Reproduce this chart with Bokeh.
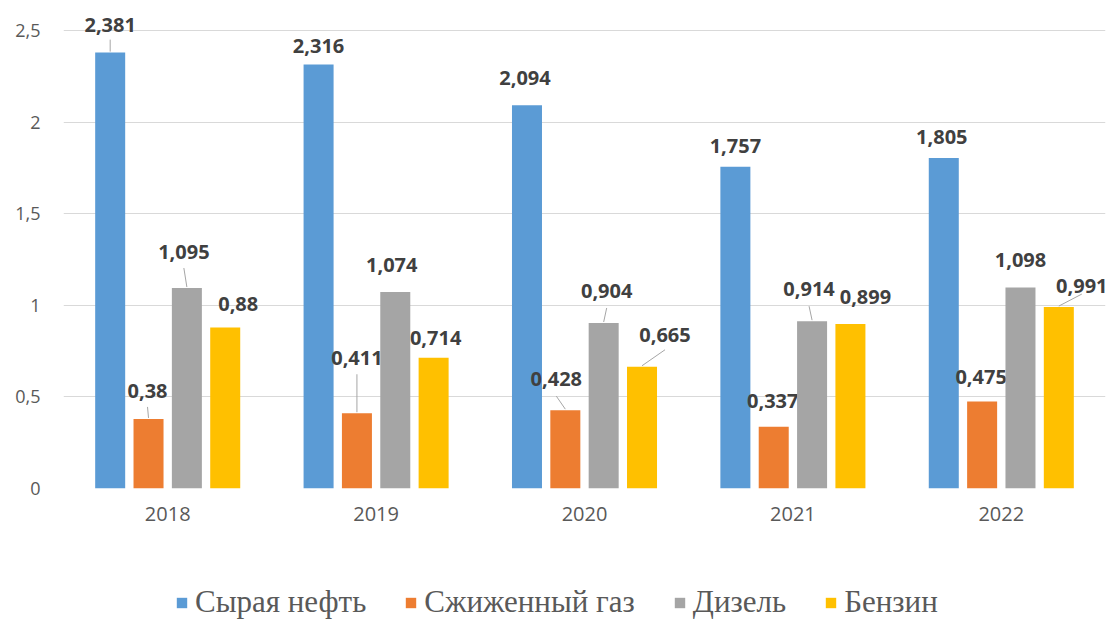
from bokeh.plotting import figure
from bokeh.models import (ColumnDataSource, Range1d, FixedTicker, CustomJSTickFormatter,
                          Legend, LegendItem)
from bokeh.layouts import column
from bokeh.core.properties import value
from bokeh.embed import file_html
from bokeh.resources import INLINE

# ---------------- data ----------------
years = ["2018", "2019", "2020", "2021", "2022"]
crude = [2.381, 2.316, 2.094, 1.757, 1.805]
lpg = [0.38, 0.411, 0.428, 0.337, 0.475]
diesel = [1.095, 1.074, 0.904, 0.914, 1.098]
gasoline = [0.88, 0.714, 0.665, 0.899, 0.991]
series_names = ["Сырая нефть", "Сжиженный газ", "Дизель", "Бензин"]
y_ticks = [0, 0.5, 1, 1.5, 2, 2.5]

# ---------------- styling / label placement (pixels) ----------------
colors = ["#5B9BD5", "#ED7D31", "#A5A5A5", "#FFC000"]
FRAME_W, FRAME_H = 1042, 476
PX_X = FRAME_W / 5.0    # pixels per category
PX_Y = FRAME_H / 2.6    # pixels per unit
bar_step = 0.184
bar_width = 0.144

label_dx = [[0, 0, -2, 0, -2],
            [-1, 0, -9, -1, -1],
            [-3, -3.5, 3, -3, 0],
            [13, 2, 23, 15, 23]]
label_dy = [[28, 18, 27, 21, 21],
            [28, 55, 31, 26, 25],
            [36, 27, 32, 32, 27],
            [23, 20, 32, 27, 21]]
leader = [[1, 0, 0, 0, 0],
          [1, 1, 1, 0, 0],
          [1, 0, 1, 1, 0],
          [0, 0, 1, 0, 1]]
leader_gap = [[15, 15, 15, 15, 15],
              [16, 16, 17, 15, 15],
              [16, 15, 17, 17, 15],
              [15, 15, 15, 15, 8]]

series = [crude, lpg, diesel, gasoline]

p = figure(frame_width=FRAME_W, frame_height=FRAME_H,
           x_range=Range1d(0, 5.0), y_range=Range1d(0, 2.6),
           output_backend="svg", toolbar_location=None,
           min_border_left=63, min_border_right=4, min_border_top=12,
           min_border_bottom=54)
p.outline_line_color = None
p.background_fill_color = "white"

# axes
p.xaxis.ticker = FixedTicker(ticks=[i + 0.5 for i in range(len(years))])
p.xaxis.major_label_overrides = {i + 0.5: y for i, y in enumerate(years)}
p.yaxis.ticker = FixedTicker(ticks=y_ticks)
p.yaxis.formatter = CustomJSTickFormatter(code="return tick.toString().replace('.', ',');")
for ax in (p.xaxis, p.yaxis):
    ax.axis_line_color = None
    ax.major_tick_line_color = None
    ax.minor_tick_line_color = None
    ax.major_label_text_color = "#595959"
    ax.major_label_text_font = "Open Sans"
p.xaxis.major_label_text_font_size = "20px"
p.xaxis.major_label_standoff = 12
p.yaxis.major_label_text_font_size = "18px"
p.yaxis.major_label_standoff = 17

p.xgrid.visible = False
p.ygrid.ticker = FixedTicker(ticks=y_ticks)
p.ygrid.grid_line_color = "#D9D9D9"
p.ygrid.grid_line_width = 1.2

for k, vals in enumerate(series):
    off = (k - 1.5) * bar_step
    xs = [i + 0.5 + off for i in range(len(years))]
    src = ColumnDataSource(dict(x=xs, top=vals))
    p.vbar(x="x", top="top", width=bar_width, source=src,
           fill_color=colors[k], line_color=None)

    lx = [xs[i] + label_dx[k][i] / PX_X for i in range(len(years))]
    ly = [vals[i] + label_dy[k][i] / PX_Y for i in range(len(years))]
    txt = [("%g" % v).replace(".", ",") for v in vals]
    p.text(x=lx, y=ly, text=txt, text_align="center", text_baseline="middle",
           text_font=value("Open Sans"), text_font_style="bold",
           text_font_size="20px", text_color="#404040")

    idx = [i for i in range(len(years)) if leader[k][i]]
    if idx:
        p.segment(x0=[lx[i] for i in idx],
                  y0=[ly[i] - leader_gap[k][i] / PX_Y for i in idx],
                  x1=[xs[i] for i in idx],
                  y1=[vals[i] + 1 / PX_Y for i in idx],
                  line_color="#A6A6A6", line_width=1)

# ---------------- legend strip ----------------
pl = figure(width=1109, height=78, x_range=Range1d(0, 1), y_range=Range1d(0, 1),
            output_backend="svg", toolbar_location=None,
            x_axis_location=None, y_axis_location=None, min_border=0)
pl.grid.visible = False
pl.outline_line_color = None
items = []
for k in range(len(series_names)):
    # legend swatch renderer (its one bar lies outside the visible range)
    r = pl.vbar(x=[-5], top=[0], width=0.1, fill_color=colors[k], line_color=None)
    items.append(LegendItem(label=series_names[k], renderers=[r]))
legend = Legend(items=items, orientation="horizontal", location=(112, 0),
                label_text_font="Liberation Serif", label_text_font_size="31px",
                label_text_color="#595959", glyph_width=13, glyph_height=13,
                label_standoff=7, spacing=38, padding=0, margin=0,
                border_line_color=None, background_fill_alpha=0)
pl.add_layout(legend)

layout = column(p, pl, spacing=0)
open("out.html", "w").write(file_html(layout, INLINE))
